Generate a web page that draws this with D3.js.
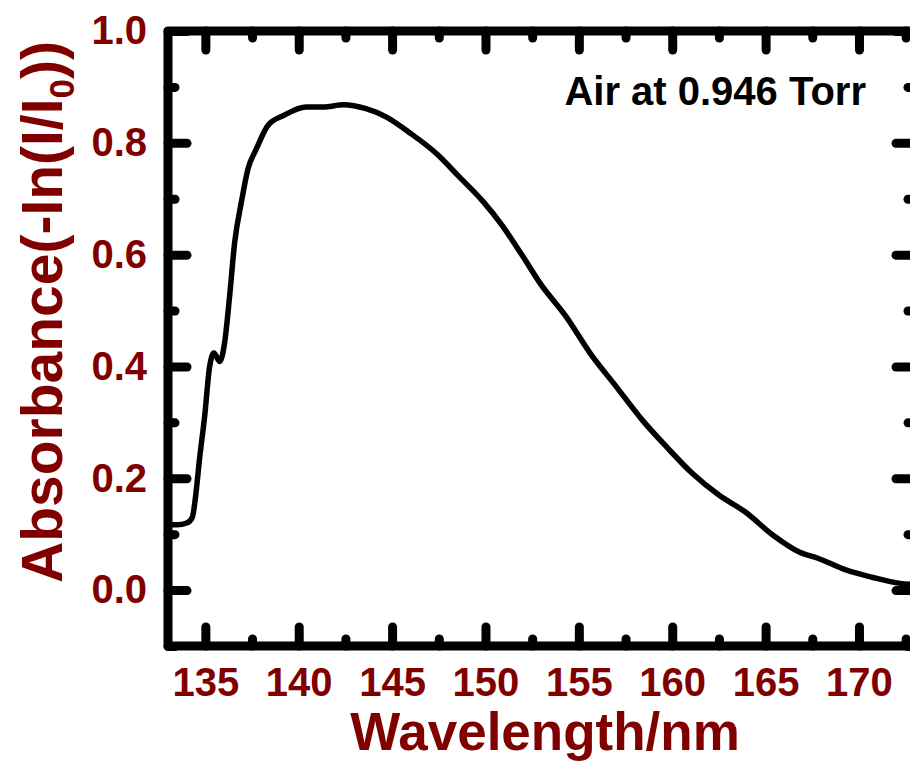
<!DOCTYPE html>
<html>
<head>
<meta charset="utf-8">
<script src="https://cdn.jsdelivr.net/npm/d3@7"></script>
<style>
  body { margin: 0; background: #fff; }
  text { font-family: Arial, "Liberation Sans", sans-serif; font-weight: bold; }
  .tick-label { fill: #800000; font-size: 40px; }
  .axis-title { fill: #800000; }
</style>
</head>
<body>
<svg id="chart"></svg>
<script>
// spectrum
const wavelength = [133.0, 133.5, 134.0, 134.3, 134.45, 134.7, 134.96, 135.23, 135.46, 135.77,
  136.03, 136.3, 136.57, 136.93, 137.28, 137.73, 138.35, 139.2, 140.4, 141.3,
  142.4, 143.6, 144.7, 145.9, 147.4, 148.6, 149.9, 150.9, 152.0, 152.9,
  154.3, 155.6, 157.0, 158.4, 159.7, 161.1, 162.5, 163.9, 165.4, 166.8,
  167.8, 169.3, 170.7, 172.2, 172.9];
const absorbance = [0.118, 0.117, 0.120, 0.130, 0.160, 0.238, 0.310, 0.400, 0.424, 0.409,
  0.442, 0.526, 0.622, 0.694, 0.753, 0.789, 0.831, 0.849, 0.864, 0.864,
  0.868, 0.861, 0.846, 0.819, 0.780, 0.739, 0.694, 0.652, 0.597, 0.550,
  0.490, 0.424, 0.364, 0.304, 0.256, 0.208, 0.170, 0.140, 0.098, 0.068,
  0.057, 0.036, 0.023, 0.012, 0.010];

const xMajor = [135, 140, 145, 150, 155, 160, 165, 170];
const xMinor = [137.5, 142.5, 147.5, 152.5, 157.5, 162.5, 167.5, 172.5];
const yMajor = [0.0, 0.2, 0.4, 0.6, 0.8, 1.0];
const yMinor = [-0.1, 0.1, 0.3, 0.5, 0.7, 0.9];

const xTitle = "Wavelength/nm";
const note = "Air at 0.946 Torr";

const config = {
  width: 910,
  height: 761,
  margin: { top: 31, right: -5, bottom: 115, left: 168 },
  frameWidth: 9,
  majorLen: 19,
  minorLen: 7
};

const data = wavelength.map((w, i) => ({ w: w, a: absorbance[i] }));

const svg = d3.select('#chart')
  .attr('width', config.width)
  .attr('height', config.height);

const innerW = config.width - config.margin.left - config.margin.right;
const innerH = config.height - config.margin.top - config.margin.bottom;

const chart = svg.append('g')
  .attr('transform', `translate(${config.margin.left},${config.margin.top})`);

const xScale = d3.scaleLinear().domain([133, 173]).range([0, innerW]);
const yScale = d3.scaleLinear().domain([-0.1, 1.0]).range([innerH, 0]);

// clip so the curve stays inside the frame
chart.append('clipPath').attr('id', 'clip')
  .append('rect').attr('width', innerW).attr('height', innerH);

chart.append('path')
  .datum(data)
  .attr('clip-path', 'url(#clip)')
  .attr('fill', 'none')
  .attr('stroke', '#000')
  .attr('stroke-width', 5.5)
  .attr('stroke-linejoin', 'round')
  .attr('stroke-linecap', 'round')
  .attr('d', d3.line()
    .curve(d3.curveMonotoneX)
    .x(d => xScale(d.w))
    .y(d => yScale(d.a)));

// tick helper: inward ticks, no domain path
function drawAxis(axis, transform, labels) {
  const g = chart.append('g').attr('transform', transform).call(axis);
  g.select('.domain').remove();
  g.selectAll('.tick line')
    .attr('stroke', '#000')
    .attr('stroke-width', config.frameWidth)
    .attr('stroke-linecap', 'round');
  if (labels) {
    g.selectAll('.tick text').attr('class', 'tick-label').attr('fill', '#800000');
  } else {
    g.selectAll('.tick text').remove();
  }
  return g;
}

// bottom
drawAxis(d3.axisBottom(xScale).tickValues(xMajor).tickSizeInner(-config.majorLen).tickSizeOuter(0)
  .tickPadding(22).tickFormat(d3.format('d')), `translate(0,${innerH})`, true);
drawAxis(d3.axisBottom(xScale).tickValues(xMinor).tickSizeInner(-config.minorLen).tickSizeOuter(0),
  `translate(0,${innerH})`, false);
// top
drawAxis(d3.axisTop(xScale).tickValues(xMajor).tickSizeInner(-config.majorLen).tickSizeOuter(0), 'translate(0,0)', false);
drawAxis(d3.axisTop(xScale).tickValues(xMinor).tickSizeInner(-config.minorLen).tickSizeOuter(0), 'translate(0,0)', false);
// left
drawAxis(d3.axisLeft(yScale).tickValues(yMajor).tickSizeInner(-config.majorLen).tickSizeOuter(0)
  .tickPadding(21).tickFormat(d3.format('.1f')), 'translate(0,0)', true);
drawAxis(d3.axisLeft(yScale).tickValues(yMinor).tickSizeInner(-config.minorLen).tickSizeOuter(0), 'translate(0,0)', false);
// right
drawAxis(d3.axisRight(yScale).tickValues(yMajor).tickSizeInner(-config.majorLen).tickSizeOuter(0), `translate(${innerW},0)`, false);
drawAxis(d3.axisRight(yScale).tickValues(yMinor).tickSizeInner(-config.minorLen).tickSizeOuter(0), `translate(${innerW},0)`, false);

// frame
chart.append('rect')
  .attr('width', innerW)
  .attr('height', innerH)
  .attr('fill', 'none')
  .attr('stroke', '#000')
  .attr('stroke-width', config.frameWidth)
  .attr('stroke-linejoin', 'round');

// axis titles
svg.append('text')
  .attr('class', 'axis-title')
  .attr('x', 545)
  .attr('y', 750)
  .attr('text-anchor', 'middle')
  .style('font-size', '53px')
  .text(xTitle);

const yTitle = svg.append('text')
  .attr('class', 'axis-title')
  .attr('transform', 'translate(62,312) rotate(-90)')
  .attr('text-anchor', 'middle')
  .style('font-size', '57px');
yTitle.append('tspan').text('Absorbance(-In(I/I');
yTitle.append('tspan').attr('dy', 12).style('font-size', '35px').text('0');
yTitle.append('tspan').attr('dy', -12).text('))');

// annotation
svg.append('text')
  .attr('x', 866)
  .attr('y', 105)
  .attr('text-anchor', 'end')
  .attr('fill', '#000')
  .style('font-size', '40px')
  .text(note);
</script>
</body>
</html>
